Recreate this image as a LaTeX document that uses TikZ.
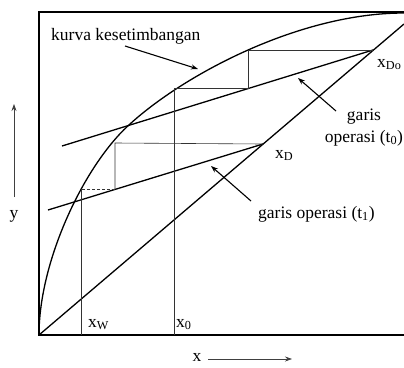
\documentclass[tikz,border=0pt]{standalone}
\usepackage{fontspec}
\setmainfont{Liberation Serif}
\usetikzlibrary{arrows.meta}
\begin{document}
\begin{tikzpicture}[x=1pt,y=-1pt,
  thick line/.style={line width=1.3pt,black},
  thin line/.style={line width=0.6pt,black!80},
  pointer/.style={line width=1.1pt,-{Stealth[length=7pt,width=5pt]}},
  axisarrow/.style={line width=0.7pt,black!75,-{Stealth[length=7pt,width=5pt]}},
  lbl/.style={font=\fontsize{17.5}{20}\selectfont,inner sep=0pt}]
\useasboundingbox (0,0) rectangle (404,367);
% frame
\coordinate (O) at (39,335);
\coordinate (TL) at (39,12);
\coordinate (TR) at (404,12);
\coordinate (BR) at (404,335);
\draw[line width=1.1pt] (TR) -- (TL) -- (O) -- (BR);
% diagonal
\coordinate (DiagEnd) at (404,24);
\draw[thick line] (O) -- (DiagEnd);
% equilibrium curve
\coordinate (Emid) at (130,124);
\coordinate (Eend) at (404,13);
\draw[thick line] (O) .. controls (39,260) and (85,164) .. (Emid)
                      .. controls (185,74) and (300,13) .. (Eend);
% operating lines
\coordinate (xDo) at (373,50);
\coordinate (t0s) at (62,146);
\coordinate (xD) at (263,144);
\coordinate (t1s) at (48,210);
\draw[thick line] (t0s) -- (xDo);
\draw[thick line] (t1s) -- (xD);
% staircase t0
\coordinate (a1) at (248,50);
\coordinate (a2) at (248,88);
\coordinate (a3) at (174,88);
\coordinate (a4) at (174,335);
\draw[thin line] (xDo) -- (a1) -- (a2) -- (a3) -- (a4);
% staircase t1
\coordinate (b1) at (115,143);
\coordinate (b2) at (115,189);
\coordinate (b3) at (81,189);
\coordinate (b4) at (81,335);
\draw[thin line] (xD) -- (b1) -- (b2);
\draw[thin line,densely dashed] (b2) -- (b3);
\draw[thin line] (b3) -- (b4);
% labels
\node[lbl,anchor=base west] (kurva) at (51,40) {kurva kesetimbangan};
\coordinate (kurvaTip) at (198,69);
\draw[pointer] (125,46) -- (kurvaTip);
\node[lbl,anchor=base west] (lxDo) at (377,67) {x\textsubscript{Do}};
\node[lbl,anchor=base] (garis0) at (364,120) {garis};
\node[lbl,anchor=base] (op0) at (364,142) {operasi (t\textsubscript{0})};
\coordinate (t0tail) at (336,111);
\coordinate (t0tip) at (298,78);
\draw[pointer] (t0tail) -- (t0tip);
\node[lbl,anchor=base west] (lxD) at (275,158) {x\textsubscript{D}};
\node[lbl,anchor=base west] (op1) at (258,218) {garis operasi (t\textsubscript{1})};
\coordinate (t1tail) at (251,201);
\coordinate (t1tip) at (211,166);
\draw[pointer] (t1tail) -- (t1tip);
\node[lbl,anchor=base west] (lxW) at (88,327) {x\textsubscript{W}};
\node[lbl,anchor=base west] (lx0) at (176,327) {x\textsubscript{0}};
% axis labels
\node[lbl] (ylab) at (14,216) {y};
\coordinate (ya) at (14,197);
\coordinate (yb) at (14,104);
\draw[axisarrow] (ya) -- (yb);
\node[lbl] (xlab) at (197,357) {x};
\coordinate (xa) at (208,359);
\coordinate (xb) at (292,359);
\draw[axisarrow] (xa) -- (xb);
\end{tikzpicture}
\end{document}
